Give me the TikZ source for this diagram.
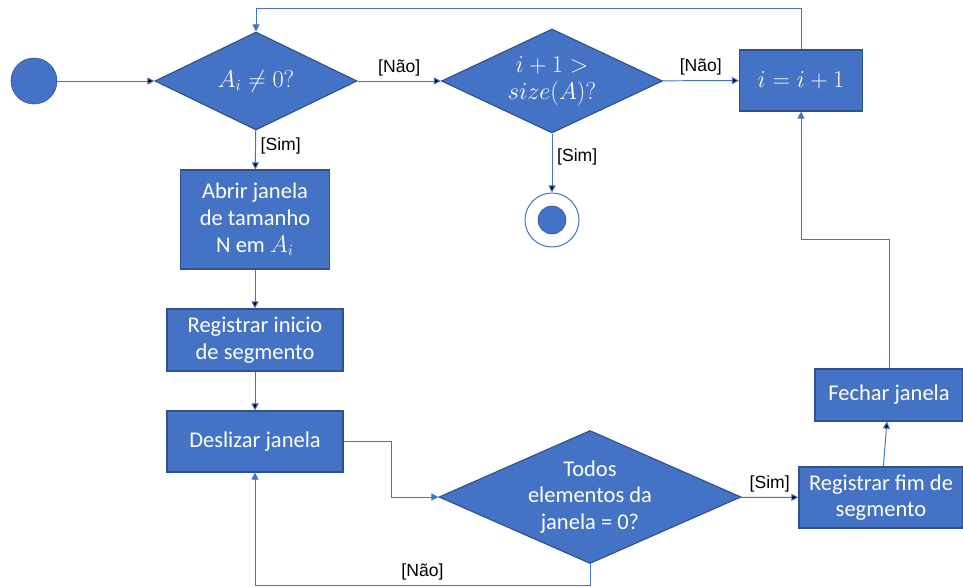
\documentclass[tikz,border=0pt]{standalone}
\usepackage{fontspec}
\setmainfont{Carlito}
\newfontfamily\labelfont{Liberation Sans}
\usetikzlibrary{shapes.geometric,arrows.meta}
\definecolor{officeblue}{HTML}{4472C4}
\definecolor{borderblue}{HTML}{2F528F}

\begin{document}
\begin{tikzpicture}[x=0.025cm,y=-0.025cm,>={Triangle[length=5pt,width=5pt]},
    flow/.style={draw=officeblue,line width=0.7pt},
    block/.style={rectangle,fill=officeblue,draw=borderblue,line width=0.8pt,text=white,
        align=center,font=\fontsize{16}{19}\selectfont,inner sep=0pt},
    decision/.style={diamond,fill=officeblue,draw=borderblue,line width=0.8pt,text=white,
        align=center,font=\fontsize{16}{19}\selectfont,inner sep=0pt},
    guard/.style={text=black,font=\labelfont\fontsize{12.5}{14}\selectfont}]

\useasboundingbox (0,0) rectangle (963,587);

\node[circle,fill=officeblue,draw=borderblue,minimum size=1.15cm] (start) at (34,81) {};
\node[decision,shape aspect=2.06,minimum width=5.05cm,minimum height=2.45cm] (d-zero) at (256,81) {$A_i \neq 0?$};
\node[decision,shape aspect=2.125,minimum width=5.525cm,minimum height=2.6cm] (d-size) at (552,81) {$i+1>$\\$size(A)?$};
\node[block,minimum width=3.075cm,minimum height=1.525cm] (inc) at (801,80.5) {$i = i + 1$};
\node[circle,fill=white,draw=officeblue,line width=0.7pt,minimum size=1.35cm] (final) at (552,220) {};
\node[circle,fill=officeblue,draw=borderblue,minimum size=0.7cm] at (final) {};

\node[block,minimum width=3.725cm,minimum height=2.475cm] (open) at (255,219.5) {Abrir janela\\de tamanho\\N em $A_i$};
\node[block,minimum width=4.4cm,minimum height=1.55cm] (seg-start) at (255,340) {Registrar inicio\\de segmento};
\node[block,minimum width=4.4cm,minimum height=1.525cm] (slide) at (255,441.5) {Deslizar janela};
\node[decision,shape aspect=2.27,minimum width=7.55cm,minimum height=3.325cm] (d-zeros) at (590,497) {Todos\\elementos da\\janela = 0?};
\node[block,minimum width=4.1cm,minimum height=1.525cm] (seg-end) at (881,497.5) {Registrar fim de\\segmento};
\node[block,minimum width=3.7cm,minimum height=1.3cm] (close) at (889,395) {Fechar janela};

\path[flow,->] (start) edge (d-zero);
\path[flow,->] (d-zero) edge node[guard,above] {[Não]} (d-size);
\path[flow,->] (d-size) edge node[guard,above] {[Não]} (inc);
\path[flow,->] (d-zero) edge node[guard,right,yshift=3pt] {[Sim]} (open);
\path[flow,->] (d-size) edge node[guard,right,yshift=4pt] {[Sim]} (final);
\path[flow,->] (open) edge (seg-start);
\path[flow,->] (seg-start) edge (slide);
\path[flow,->] (d-zeros) edge node[guard,above] {[Sim]} (seg-end);
\path[flow,->] (seg-end) edge (close);

\draw[flow,->] (inc.north) -- ++(0,-41) -| (d-zero.north);
\draw[flow,->] (slide.east) -- ++(48,0) |- (d-zeros.west);
\draw[flow,->] (d-zeros.south) -- ++(0,21) -| node[guard,pos=0.25,above] {[Não]} (slide.south);
\draw[flow,->] (close.north) -- ++(0,-129) -| (inc.south);

\end{tikzpicture}
\end{document}
